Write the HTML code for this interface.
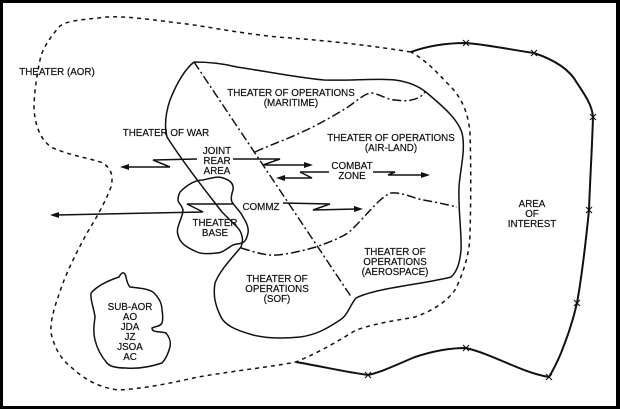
<!DOCTYPE html>
<html><head><meta charset="utf-8"><style>
html,body{margin:0;padding:0;background:#fff}
svg{display:block}
text{font-family:"Liberation Sans",sans-serif;font-size:9.8px;fill:#111;text-anchor:middle;stroke:#111;stroke-width:0.2}
</style></head><body>
<svg width="620" height="409" viewBox="0 0 620 409" xmlns="http://www.w3.org/2000/svg">
<rect x="0" y="0" width="620" height="409" fill="#000"/>
<rect x="3" y="3" width="613" height="403" fill="#fff"/>
<g fill="none" stroke="#111" stroke-width="1.5">
<path stroke-dasharray="4,4" d="M411,52 C360,44 320,40 277,37 C230,32 200,25 178,23 C140,18 115,15 99,18 C75,20 64,22 59,27 C48,40 42,50 40,60 C36,80 34,95 34,110 C36,130 42,140 51,147 C70,156 90,158 103,163 C113,170 113,178 111,187 C104,205 95,220 87,233 C75,255 68,270 63,283 C55,305 50,320 51,333 C55,350 62,360 71,367 C85,380 100,388 119,390 C150,388 175,382 198,377 C240,370 270,367 296,362 C320,352 340,340 356,330 C380,322 400,320 415,317 C435,310 448,300 455,290 C465,270 470,250 470,233 C471,200 471,165 470,133 C468,110 460,95 447,83 C435,70 425,60 411,52"/>
<path stroke-width="2" d="M411,52 C430,45 448,43 466,43 C490,45 512,50 534,53 C555,60 570,70 577,83 C585,95 592,105 593,117 C592,150 590,180 589,210 C586,240 582,275 577,303 C572,325 566,340 561,353 C556,365 552,372 549,377 C520,372 495,355 466,348 C448,348 430,352 415,357 C398,364 382,372 368,375 C345,372 320,366 296,362"/>
<g stroke-width="1.1">
<path d="M463,40 l6,6 M469,40 l-6,6 M531,50 l6,6 M537,50 l-6,6 M590,114 l6,6 M596,114 l-6,6 M586,207 l6,6 M592,207 l-6,6 M574,300 l6,6 M580,300 l-6,6 M546,374 l6,6 M552,374 l-6,6 M463,345 l6,6 M469,345 l-6,6 M365,372 l6,6 M371,372 l-6,6"/>
</g>
<path d="M194,62 C210,62 225,64 237,67 C270,72 300,78 324,80 C350,81 375,78 395,80 C410,82 420,87 427,93 C445,108 458,120 462,133 C466,150 460,170 459,187 C458,210 462,235 461,250 C460,262 457,272 451,277 C425,284 375,288 356,298 C350,305 348,315 340,320 C325,330 315,335 300,337 C280,339 265,338 253,335 C235,330 225,325 221,317 C215,305 213,295 215,283 C220,270 232,258 241,247 C244,240 242,232 237,227 C232,222 227,217 222,212 C205,190 185,165 167,137 C164,125 166,112 170,100 C176,85 184,70 194,62"/>
<path d="M180,192 C188,184 196,180 203,180 C212,178 218,176 223,178 C230,180 234,184 233,190 C231,196 231,200 232,202 C236,208 241,212 243,217 C247,223 249,228 248,233 C247,238 245,242 242,243 C238,244 236,244 233,245 C226,249 222,253 217,253 C208,254 201,254 197,252 C188,248 183,245 180,240 C177,234 177,231 178,227 C180,220 183,215 183,210 C182,205 178,203 178,200 C178,196 179,194 180,192"/>
<path d="M91,293 C98,285 110,280 119,277 C122,271 125,272 126,277 C127,282 128,285 130,287 C140,288 150,289 154,293 C160,299 162,305 162,310 C163,316 163,320 162,323 C160,327 155,326 152,328 C152,333 160,331 166,333 C170,338 171,342 170,347 C168,354 166,359 162,363 C150,367 138,369 126,368 C118,368 110,367 107,363 C100,355 97,348 95,340 C93,332 94,325 95,317 C94,308 90,300 91,293"/>
<g stroke-dasharray="9,3,2,3">
<path d="M194,62 L352,298"/>
<path d="M255,152 C270,145 285,140 300,133 C318,125 335,115 348,107 C358,100 365,93 372,93 C382,95 388,100 395,100 C403,101 409,101 411,100 C418,99 422,96 425,92"/>
<path d="M241,248 C255,252 265,256 277,255 C290,254 305,250 316,247 C330,242 340,238 348,233 C365,218 378,198 391,193 C402,192 413,198 423,200 C436,202 448,205 457,207"/>
</g>
<path d="M197,159 L153,160 L170,167 L126,167"/>
<path d="M233,159 L280,159 L263,165 L307,165"/>
<path d="M329,172 L300,172 L312,178 L282,178"/>
<path d="M373,172 L395,172 L388,175 L424,175"/>
<path d="M233,204 L187,204 L203,212 L57,215"/>
<path d="M283,203 L330,204 L313,210 L357,209"/>
</g>
<g fill="#111">
<path d="M120,167 l9,-3 v6 z"/>
<path d="M313,165 l-9,-3 v6 z"/>
<path d="M276,178 l9,-3 v6 z"/>
<path d="M430,175 l-9,-3 v6 z"/>
<path d="M50,215 l9,-3 v6 z"/>
<path d="M363,209 l-9,-3 v6 z"/>
</g>
<text x="57" y="75">THEATER (AOR)</text>
<text x="291" y="96">THEATER OF OPERATIONS</text>
<text x="291" y="106">(MARITIME)</text>
<text x="166" y="136">THEATER OF WAR</text>
<text x="391" y="141">THEATER OF OPERATIONS</text>
<text x="391" y="151">(AIR-LAND)</text>
<text x="217" y="154">JOINT</text>
<text x="217" y="164">REAR</text>
<text x="217" y="174">AREA</text>
<text x="352" y="169">COMBAT</text>
<text x="352" y="179">ZONE</text>
<text x="261" y="210">COMMZ</text>
<text x="215" y="226">THEATER</text>
<text x="215" y="236">BASE</text>
<text x="532" y="207">AREA</text>
<text x="532" y="217">OF</text>
<text x="532" y="227">INTEREST</text>
<text x="395" y="255">THEATER OF</text>
<text x="395" y="265">OPERATIONS</text>
<text x="395" y="275">(AEROSPACE)</text>
<text x="277" y="282">THEATER OF</text>
<text x="277" y="292">OPERATIONS</text>
<text x="277" y="302">(SOF)</text>
<text x="130" y="310">SUB-AOR</text>
<text x="130" y="320">AO</text>
<text x="130" y="330">JDA</text>
<text x="130" y="340">JZ</text>
<text x="130" y="350">JSOA</text>
<text x="130" y="360">AC</text>
</svg>
</body></html>
